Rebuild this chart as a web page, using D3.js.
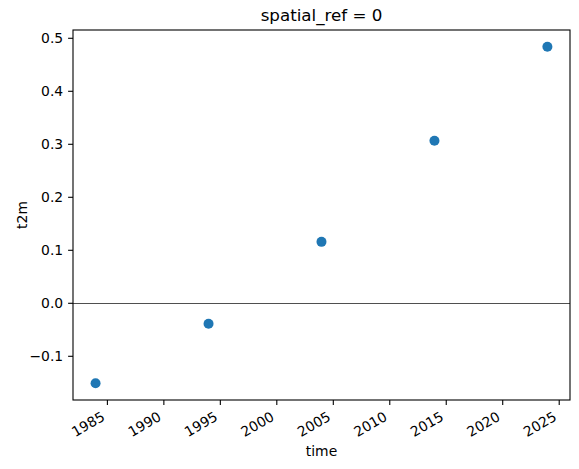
<!DOCTYPE html>
<html>
<head>
<meta charset="utf-8">
<script src="https://cdn.jsdelivr.net/npm/d3@7"></script>
<style>
  body { margin: 0; background: #fff; }
  text { font-family: "DejaVu Sans", sans-serif; fill: #000; }
</style>
</head>
<body>
<div id="chart"></div>
<script>
// datos
const years = ["1984-01-01", "1994-01-01", "2004-01-01", "2014-01-01", "2024-01-01"];
const t2m = [-0.1517, -0.0396, 0.115, 0.3057, 0.483];
const yTicks = [-0.1, 0.0, 0.1, 0.2, 0.3, 0.4, 0.5];
const xTickYears = [1985, 1990, 1995, 2000, 2005, 2010, 2015, 2020, 2025];

const width = 579, height = 469;
const margin = {top: 30, right: 9, bottom: 69, left: 73};
const parse = d3.timeParse("%Y-%m-%d");
const puntos = years.map((d, i) => ({fecha: parse(d), valor: t2m[i]}));

const svg = d3.select("#chart").append("svg")
  .attr("width", width)
  .attr("height", height);

// escalas con el 5% de margen como matplotlib
const x = d3.scaleTime()
  .domain([new Date(1982, 0, 1), new Date(2026, 0, 1)])
  .range([margin.left, width - margin.right]);
const y = d3.scaleLinear()
  .domain([-0.1834, 0.5147])
  .range([height - margin.bottom, margin.top]);

// linea del cero
svg.append("line")
  .attr("x1", margin.left).attr("x2", width - margin.right)
  .attr("y1", Math.round(y(0)) + 0.5).attr("y2", Math.round(y(0)) + 0.5)
  .attr("stroke", "#222").attr("stroke-width", 0.8);

// puntos
svg.append("g").selectAll("circle")
  .data(puntos)
  .join("circle")
  .attr("cx", d => x(d.fecha))
  .attr("cy", d => y(d.valor))
  .attr("r", 5)
  .attr("fill", "#1f77b4");

// ejes
const ejeX = svg.append("g")
  .attr("transform", `translate(0,${height - margin.bottom})`)
  .call(d3.axisBottom(x)
    .tickValues(xTickYears.map(a => new Date(a, 0, 1)))
    .tickFormat(d3.timeFormat("%Y"))
    .tickSize(4.9));
// etiquetas giradas 30 grados, esquina superior derecha en el tick
ejeX.selectAll("text")
  .attr("font-size", 13.9)
  .attr("text-anchor", "end")
  .attr("x", 0).attr("y", 0).attr("dy", 0)
  .attr("transform", "translate(-1.6,19.5) rotate(-30)");

const ejeY = svg.append("g")
  .attr("transform", `translate(${margin.left},0)`)
  .call(d3.axisLeft(y)
    .tickValues(yTicks)
    .tickFormat(d => d3.format(".1f")(d).replace("-", "\u2212"))
    .tickSize(4.9).tickPadding(4.9));
ejeY.selectAll("text").attr("font-size", 13.9);

svg.selectAll(".domain").remove();
svg.selectAll(".tick line").attr("stroke", "#000").attr("stroke-width", 1.1);

// marco
svg.append("rect")
  .attr("x", margin.left).attr("y", margin.top)
  .attr("width", width - margin.left - margin.right)
  .attr("height", height - margin.top - margin.bottom)
  .attr("fill", "none").attr("stroke", "#000").attr("stroke-width", 1.1);

// textos
svg.append("text")
  .attr("x", (margin.left + width - margin.right) / 2)
  .attr("y", 21)
  .attr("text-anchor", "middle")
  .attr("font-size", 16.7)
  .text("spatial_ref = 0");

svg.append("text")
  .attr("x", (margin.left + width - margin.right) / 2)
  .attr("y", 456)
  .attr("text-anchor", "middle")
  .attr("font-size", 13.9)
  .text("time");

svg.append("text")
  .attr("transform", `translate(27,${(margin.top + height - margin.bottom) / 2}) rotate(-90)`)
  .attr("text-anchor", "middle")
  .attr("font-size", 13.9)
  .text("t2m");
</script>
</body>
</html>
